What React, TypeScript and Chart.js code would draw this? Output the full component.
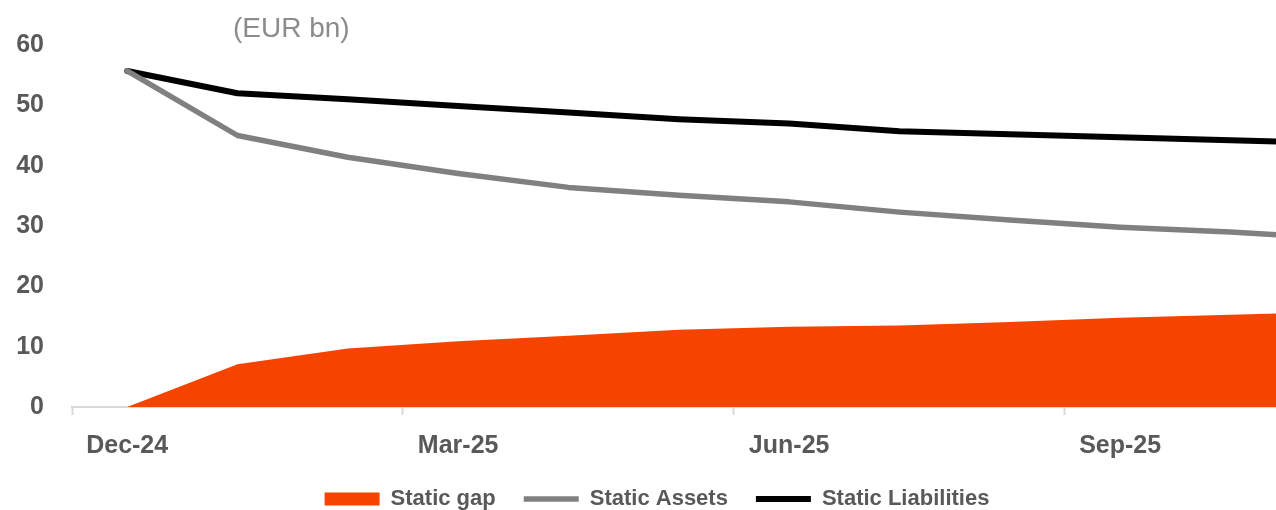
import React, { useEffect, useRef } from "react";
import { Chart, registerables } from "chart.js";

Chart.register(...registerables);

const categories = [
  "Dec-24", "Jan-25", "Feb-25", "Mar-25", "Apr-25", "May-25",
  "Jun-25", "Jul-25", "Aug-25", "Sep-25", "Oct-25", "Nov-25",
];
const staticGap = [0, 7.1, 9.7, 10.9, 11.8, 12.8, 13.3, 13.5, 14.1, 14.8, 15.3, 15.8];
const staticAssets = [55.7, 45.0, 41.4, 38.7, 36.4, 35.1, 34.0, 32.3, 31.0, 29.8, 29.0, 27.9];
const staticLiabilities = [55.7, 52.0, 51.0, 49.9, 48.8, 47.7, 47.0, 45.7, 45.2, 44.7, 44.2, 43.7];
const labelEvery = 3;
const yTicks = [0, 10, 20, 30, 40, 50, 60];

const CANVAS_W = 1314;
const CANVAS_H = 520;
const X_MIN = -0.5;
const X_MAX = 10.757;

const toPoints = (arr: number[]) => arr.map((v, i) => ({ x: i, y: v }));

const tickFont = { family: "'Liberation Sans', Arial, sans-serif", size: 25, weight: "bold" as const, lineHeight: 1.2 };
const legendFont = { family: "'Liberation Sans', Arial, sans-serif", size: 22, weight: "bold" as const };

export default function App() {
  const ref = useRef<HTMLCanvasElement | null>(null);

  useEffect(() => {
    if (!ref.current) return;
    const xTickValues: number[] = [];
    for (let i = 0; i < categories.length; i += labelEvery) {
      if (i - 0.5 >= X_MIN) xTickValues.push(i - 0.5);
      if (i <= X_MAX) xTickValues.push(i);
    }
    const chart = new Chart(ref.current, {
      type: "line",
      data: {
        datasets: [
          {
            label: "Static gap",
            data: toPoints(staticGap),
            fill: "origin",
            backgroundColor: "#F54400",
            borderColor: "#F54400",
            borderWidth: 0,
            pointRadius: 0,
            pointStyle: "rect",
            tension: 0,
          },
          {
            label: "Static Assets",
            data: toPoints(staticAssets),
            fill: false,
            borderColor: "#808080",
            backgroundColor: "#808080",
            borderWidth: 5.5,
            borderCapStyle: "round",
            borderJoinStyle: "round",
            pointRadius: 0,
            pointStyle: "line",
            tension: 0,
          },
          {
            label: "Static Liabilities",
            data: toPoints(staticLiabilities),
            fill: false,
            borderColor: "#000000",
            backgroundColor: "#000000",
            borderWidth: 6,
            borderCapStyle: "round",
            borderJoinStyle: "round",
            pointRadius: 0,
            pointStyle: "line",
            tension: 0,
          },
        ],
      },
      options: {
        responsive: false,
        animation: false,
        layout: { padding: { top: 45, left: 0, right: 0, bottom: 0 } },
        plugins: {
          tooltip: { enabled: false },
          title: { display: false },
          legend: {
            position: "bottom",
            labels: {
              usePointStyle: true,
              pointStyleWidth: 55,
              boxHeight: 13,
              padding: 28,
              color: "#595959",
              font: legendFont,
            },
          },
        },
        scales: {
          x: {
            type: "linear",
            min: X_MIN,
            max: X_MAX,
            bounds: "data",
            afterBuildTicks: (scale: any) => {
              scale.ticks = xTickValues.map((v) => ({ value: v }));
            },
            afterFit: (scale: any) => {
              scale.height = 53;
            },
            ticks: {
              autoSkip: false,
              maxRotation: 0,
              minRotation: 0,
              padding: 16,
              color: "#595959",
              font: tickFont,
              callback: (value: any) => {
                const v = Number(value);
                return Number.isInteger(v) ? categories[v] : "";
              },
            },
            grid: {
              display: true,
              drawOnChartArea: false,
              drawTicks: true,
              tickLength: 8,
              tickWidth: 2,
              tickColor: (ctx: any) =>
                ctx.tick && !Number.isInteger(ctx.tick.value) ? "#d9d9d9" : "rgba(0,0,0,0)",
            },
            border: { display: true, color: "#d9d9d9", width: 2 },
          },
          y: {
            min: 0,
            max: 60,
            afterBuildTicks: (scale: any) => {
              scale.ticks = yTicks.map((v) => ({ value: v }));
            },
            afterFit: (scale: any) => {
              scale.width = 72;
            },
            ticks: {
              padding: 28,
              color: "#595959",
              font: tickFont,
            },
            grid: { display: false, drawTicks: false },
            border: { display: false },
          },
        },
      },
    });
    return () => chart.destroy();
  }, []);

  return (
    <div
      style={{
        position: "absolute",
        left: 0,
        top: 0,
        width: 1276,
        height: 510,
        overflow: "hidden",
        background: "#ffffff",
      }}
    >
      <canvas ref={ref} width={CANVAS_W} height={CANVAS_H} style={{ display: "block" }} />
      <div
        style={{
          position: "absolute",
          left: 233,
          top: 14,
          fontFamily: "'Liberation Sans', Arial, sans-serif",
          fontSize: 28,
          lineHeight: "28px",
          color: "#8c8c8c",
          whiteSpace: "nowrap",
        }}
      >
        (EUR bn)
      </div>
    </div>
  );
}
